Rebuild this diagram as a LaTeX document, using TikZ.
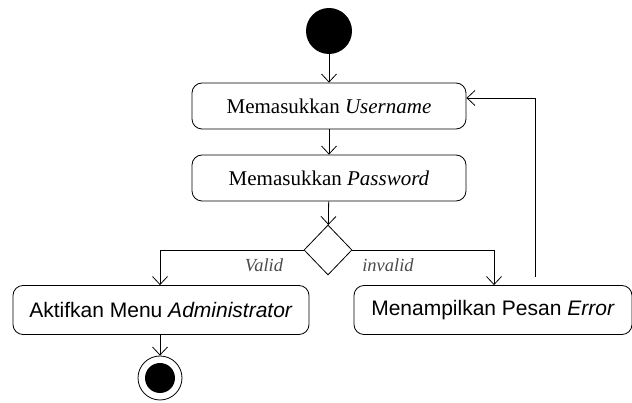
\documentclass[tikz,border=0pt]{standalone}
\usepackage{fontspec}
\setmainfont{Liberation Serif}
\newfontfamily\arialf{Liberation Sans}
\usetikzlibrary{arrows.meta,shapes.geometric}
\begin{document}
\begin{tikzpicture}[x=1pt,y=-1pt,
  act/.style={draw,rounded corners=10pt,line width=0.8pt,minimum height=46pt,inner sep=0pt},
  conn/.style={draw,line width=0.8pt,-{Straight Barb[length=8pt,width=15pt,line width=0.8pt]}},
  guard/.style={font=\fontsize{18.5}{21}\selectfont\itshape,text=black!70}]
\useasboundingbox (0,0) rectangle (632,403);
\node[circle,fill=black,minimum size=46pt,inner sep=0pt] (start) at (329,31) {};
\node[act,minimum width=274pt,font=\fontsize{21}{24}\selectfont] (user) at (329,106) {Memasukkan \textit{Username}};
\node[act,minimum width=274pt,font=\fontsize{21}{24}\selectfont] (pass) at (329,178) {Memasukkan \textit{Password}};
\node[diamond,draw,line width=0.8pt,minimum width=48pt,minimum height=50pt,inner sep=0pt] (dec) at (328,250) {};
\node[act,minimum width=296pt,minimum height=49pt,font=\arialf\fontsize{21}{24}\selectfont] (adm) at (161,310) {Aktifkan Menu \textit{Administrator}};
\node[act,minimum width=278pt,minimum height=49pt,font=\arialf\fontsize{21}{24}\selectfont] (err) at (493,310) {Menampilkan Pesan \textit{Error}};
\node[circle,draw,line width=0.8pt,minimum size=44pt,inner sep=0pt] (end) at (160,378) {};
\node[circle,fill=black,minimum size=30pt,inner sep=0pt] at (end) {};
\node[guard] (lv) at (264,265) {Valid};
\node[guard] (li) at (388,265) {invalid};
\coordinate (lb) at (160,250);
\coordinate (rb) at (494,250);
\coordinate (up1) at (535,277);
\coordinate (up2) at (535,98);
\draw[conn] (start) -- (user);
\draw[conn] (user) -- (pass);
\draw[conn] (pass) -- (dec);
\draw[conn] (dec.west) -- (lb) -- (lb |- adm.north);
\draw[conn] (dec.east) -- (rb) -- (rb |- err.north);
\draw[conn] (adm.south -| end) -- (end);
\draw[conn] (up1) -- (up2) -- (up2 -| user.east);
\end{tikzpicture}
\end{document}
